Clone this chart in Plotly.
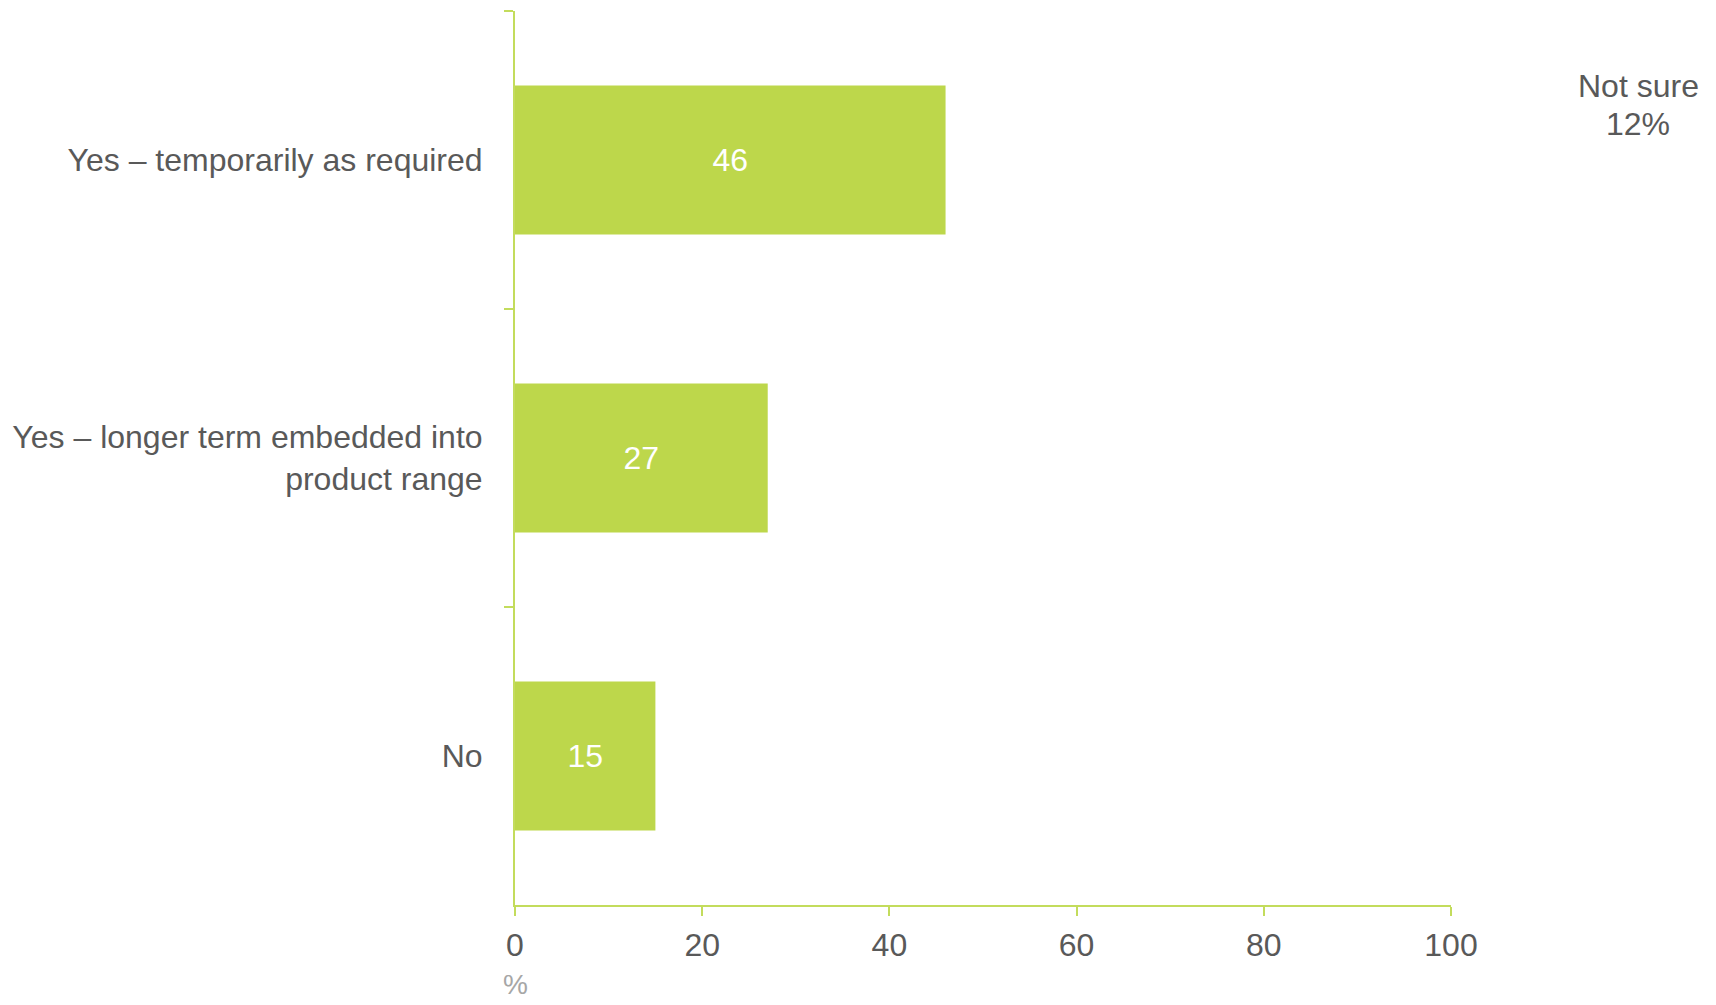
import plotly.graph_objects as go

categories = ["Yes – temporarily as required", "Yes – longer term embedded into<br>product range", "No"]
values = [46, 27, 15]
x_ticks = [0, 20, 40, 60, 80, 100]
not_sure_label = "Not sure"
not_sure_value = 12
axis_unit = "%"

GREEN = "#BDD74B"
AXIS_GREEN = "#C3DC5C"
TEXT = "#595959"
FONT = "Arial, Liberation Sans, sans-serif"
FS = 32

fig = go.Figure()
fig.add_trace(go.Bar(
    x=values, y=categories, orientation="h",
    marker=dict(color=GREEN, line=dict(width=0)),
    width=0.5,
    text=[str(v) for v in values],
    textposition="inside", insidetextanchor="middle",
    textfont=dict(color="white", size=FS, family=FONT),
    hoverinfo="skip",
))

fig.update_layout(
    width=1708, height=997,
    margin=dict(l=507, r=265, t=3, b=100),
    paper_bgcolor="white", plot_bgcolor="white",
    showlegend=False,
    font=dict(family=FONT, color=TEXT, size=FS),
)
fig.update_xaxes(
    range=[0, 100], tickvals=x_ticks, ticktext=[str(t) for t in x_ticks],
    showgrid=False, zeroline=False,
    showline=True, linecolor=AXIS_GREEN, linewidth=2,
    ticks="outside", ticklen=9, tickwidth=1.5, tickcolor=AXIS_GREEN,
    tickfont=dict(size=FS, color=TEXT, family=FONT),
    ticklabelstandoff=2,
)
fig.update_yaxes(
    categoryorder="array", categoryarray=categories, autorange="reversed",
    showgrid=False, zeroline=False,
    showline=True, linecolor=AXIS_GREEN, linewidth=2,
    ticks="outside", ticklen=9, tickwidth=1.5, tickcolor=AXIS_GREEN,
    tickson="boundaries",
    tickfont=dict(size=FS, color=TEXT, family=FONT),
    ticklabelstandoff=24,
)

fig.add_annotation(
    text=axis_unit, xref="paper", yref="paper", x=0, y=-0.089,
    xanchor="center", yanchor="middle", showarrow=False,
    font=dict(size=28, color="#A6A6A6", family=FONT),
)
fig.add_annotation(
    text=not_sure_label, xref="paper", yref="paper",
    x=1.2, y=0.916, xanchor="center", yanchor="middle", showarrow=False,
    font=dict(size=FS, color=TEXT, family=FONT),
)
fig.add_annotation(
    text=f"{not_sure_value}%", xref="paper", yref="paper",
    x=1.2, y=0.874, xanchor="center", yanchor="middle", showarrow=False,
    font=dict(size=FS, color=TEXT, family=FONT),
)

fig.write_html("out.html")
